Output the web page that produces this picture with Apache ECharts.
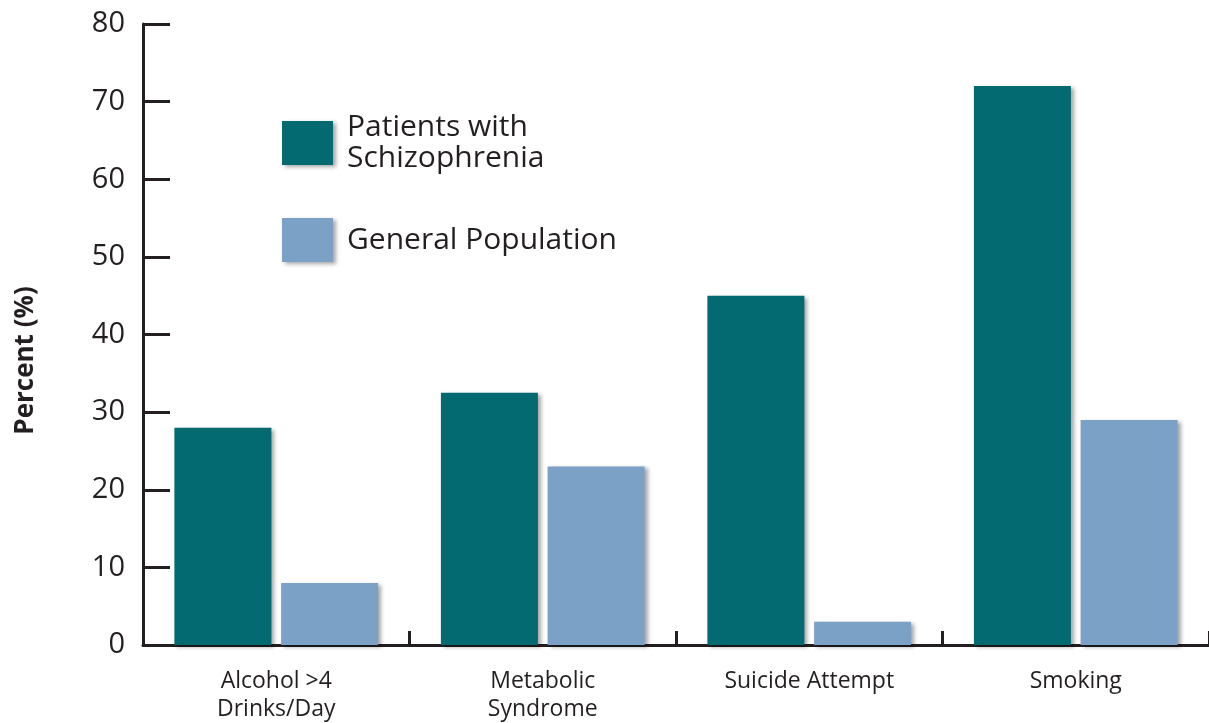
<!DOCTYPE html>
<html>
<head>
<meta charset="utf-8">
<script src="https://cdn.jsdelivr.net/npm/echarts@6/dist/echarts.min.js"></script>
<style>
  html, body { margin: 0; padding: 0; background: #ffffff; }
  #chart { width: 1209px; height: 723px; }
</style>
</head>
<body>
<div id="chart"></div>
<script>
// Risk factors compared between the two groups
const categories = ['Alcohol >4\nDrinks/Day', 'Metabolic\nSyndrome', 'Suicide Attempt', 'Smoking'];
const schizophrenia = [28, 32.5, 45, 72];
const generalPopulation = [8, 23, 3, 29];
const seriesNames = ['Patients with\nSchizophrenia', 'General Population'];

const ink = '#231f20';
const font = 'Open Sans';
const shadow = {
  shadowBlur: 4,
  shadowOffsetX: 3,
  shadowOffsetY: 2,
  shadowColor: 'rgba(0,0,0,0.35)'
};

const chart = echarts.init(document.getElementById('chart'));
chart.setOption({
  backgroundColor: '#ffffff',
  animation: false,
  textStyle: { fontFamily: font, color: ink },
  grid: { left: 143, top: 24, width: 1069, height: 624, containLabel: false },
  legend: {
    orient: 'vertical',
    left: 282,
    top: 108,
    padding: 0,
    itemWidth: 51,
    itemHeight: 44,
    itemGap: 40,
    icon: 'rect',
    selectedMode: false,
    itemStyle: Object.assign({}, shadow),
    textStyle: { fontSize: 30, lineHeight: 31, color: ink, fontFamily: font, padding: [8, 0, 0, 9] },
    data: seriesNames
  },
  xAxis: {
    type: 'category',
    data: categories,
    boundaryGap: true,
    axisLine: { lineStyle: { color: ink, width: 3 } },
    axisTick: { show: true, inside: true, length: 14, lineStyle: { color: ink, width: 3 } },
    axisLabel: { fontSize: 23, lineHeight: 28, color: ink, margin: 22, fontFamily: font },
    splitLine: { show: false }
  },
  yAxis: {
    type: 'value',
    min: 0,
    max: 80,
    interval: 10,
    name: 'Percent (%)',
    nameLocation: 'middle',
    nameGap: 104,
    nameRotate: 90,
    nameTextStyle: { fontSize: 26, fontWeight: 'bold', color: ink, fontFamily: font, padding: [0, 52, 0, 0] },
    axisLine: { show: true, lineStyle: { color: ink, width: 3 } },
    axisTick: { show: true, inside: true, length: 27, lineStyle: { color: ink, width: 3 } },
    axisLabel: { fontSize: 29, color: ink, margin: 18, fontFamily: font },
    splitLine: { show: false }
  },
  series: [
    {
      name: seriesNames[0],
      type: 'bar',
      data: schizophrenia,
      barWidth: 97,
      barGap: '10%',
      itemStyle: Object.assign({ color: '#026a70' }, shadow)
    },
    {
      name: seriesNames[1],
      type: 'bar',
      data: generalPopulation,
      barWidth: 97,
      barGap: '10%',
      itemStyle: Object.assign({ color: '#7ba1c7' }, shadow)
    }
  ]
});
</script>
</body>
</html>
